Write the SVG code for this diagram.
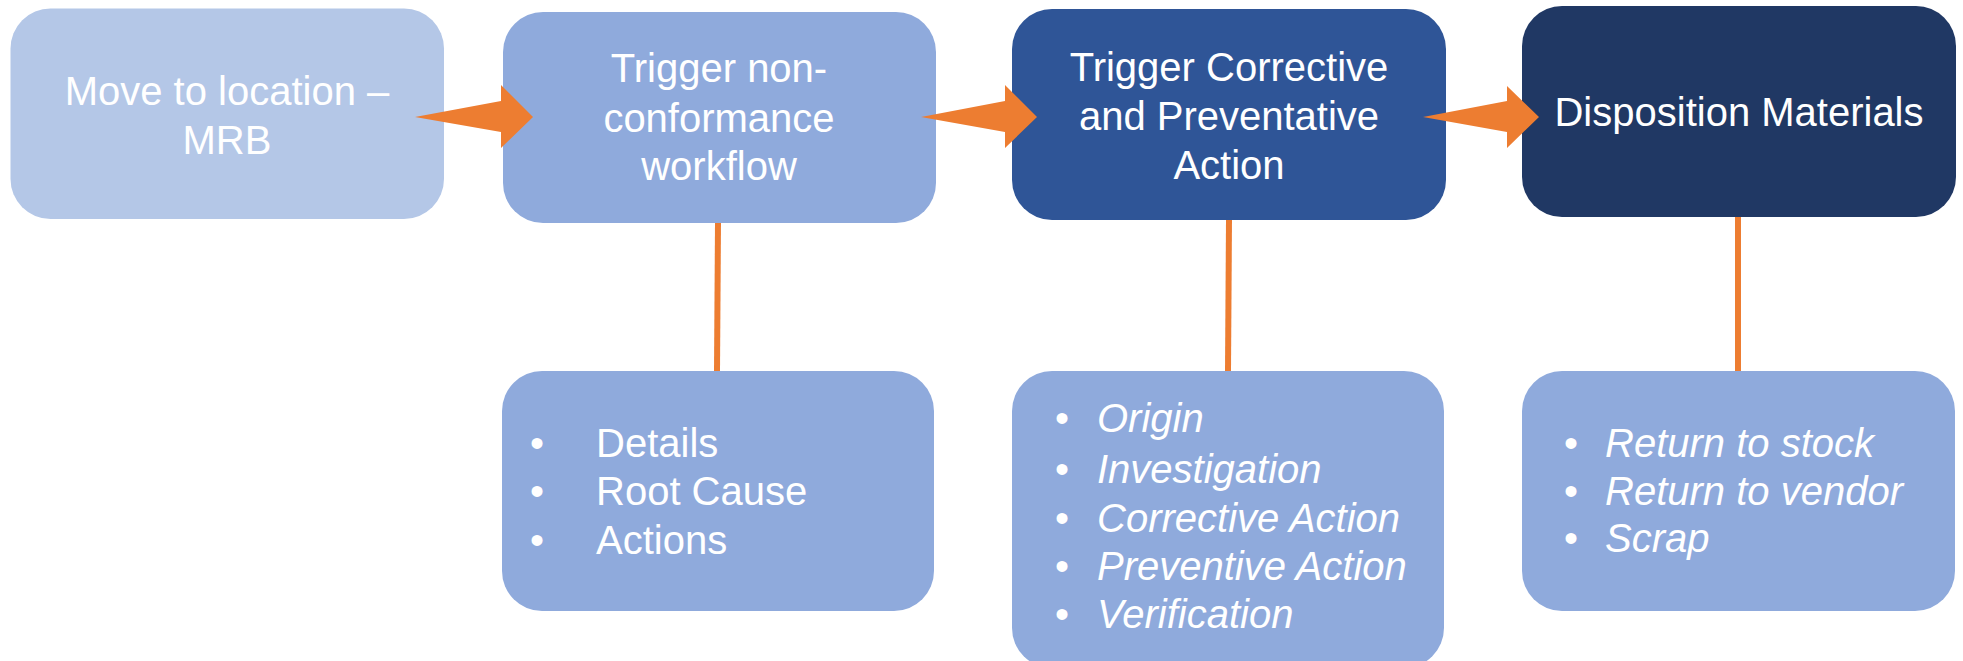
<svg xmlns="http://www.w3.org/2000/svg" width="1963" height="661" viewBox="0 0 1963 661">
<style>
.t{font-family:"Liberation Sans",Arial,sans-serif;font-size:40px;fill:#FFFFFF}
.c{text-anchor:middle}
.b{text-anchor:middle}
.i{font-style:italic}
.conn{stroke:#ED7D31;stroke-width:6;fill:none}
.arr{fill:#ED7D31}
</style>
<rect width="1963" height="661" fill="#FFFFFF"/>
<g id="node-move">
<rect x="10.5" y="8.5" width="433.5" height="210.5" rx="40" fill="#B4C7E7"/>
<text class="t c" x="227" y="105">Move to location –</text>
<text class="t c" x="227" y="154">MRB</text>
</g>
<g id="node-ncr">
<rect x="503" y="12" width="433" height="211" rx="40" fill="#8FAADC"/>
<text class="t c" x="719" y="82">Trigger non-</text>
<text class="t c" x="719" y="132">conformance</text>
<text class="t c" x="719" y="180">workflow</text>
</g>
<g id="node-capa">
<rect x="1012" y="9" width="434" height="211" rx="40" fill="#2F5597"/>
<text class="t c" x="1229" y="81">Trigger Corrective</text>
<text class="t c" x="1229" y="130">and Preventative</text>
<text class="t c" x="1229" y="179">Action</text>
</g>
<g id="node-disp">
<rect x="1522" y="6" width="434" height="211" rx="40" fill="#203864"/>
<text class="t c" x="1739" y="126">Disposition Materials</text>
</g>
<g id="node-ncr-list">
<rect x="502" y="371" width="432" height="240" rx="40" fill="#8FAADC"/>
<text class="t b" x="537" y="457">•</text>
<text class="t b" x="537" y="505">•</text>
<text class="t b" x="537" y="554">•</text>
<text class="t" x="596" y="457">Details</text>
<text class="t" x="596" y="505">Root Cause</text>
<text class="t" x="596" y="554">Actions</text>
</g>
<g id="node-capa-list">
<rect x="1012" y="371" width="432" height="297" rx="40" fill="#8FAADC"/>
<text class="t b" x="1062" y="432">•</text>
<text class="t b" x="1062" y="483">•</text>
<text class="t b" x="1062" y="532">•</text>
<text class="t b" x="1062" y="580">•</text>
<text class="t b" x="1062" y="628">•</text>
<text class="t i" x="1097" y="432">Origin</text>
<text class="t i" x="1097" y="483">Investigation</text>
<text class="t i" x="1097" y="532">Corrective Action</text>
<text class="t i" x="1097" y="580">Preventive Action</text>
<text class="t i" x="1097" y="628">Verification</text>
</g>
<g id="node-disp-list">
<rect x="1522" y="371" width="433" height="240" rx="40" fill="#8FAADC"/>
<text class="t b" x="1571" y="457">•</text>
<text class="t b" x="1571" y="505">•</text>
<text class="t b" x="1571" y="552">•</text>
<text class="t i" x="1605" y="457">Return to stock</text>
<text class="t i" x="1605" y="505">Return to vendor</text>
<text class="t i" x="1605" y="552">Scrap</text>
</g>
<g id="connectors">
<line class="conn" x1="718" y1="223" x2="717" y2="371"/>
<line class="conn" x1="1229" y1="220" x2="1228" y2="371"/>
<line class="conn" x1="1738" y1="217" x2="1738" y2="371"/>
<polygon class="arr" points="415,117 501,101 501,85 533,117 501,148 501,132"/>
<polygon class="arr" points="921,117 1005,101 1005,85 1037,117 1005,148 1005,132"/>
<polygon class="arr" points="1423,117 1507,101 1507,86 1539,117 1507,148 1507,132"/>
</g>
</svg>
